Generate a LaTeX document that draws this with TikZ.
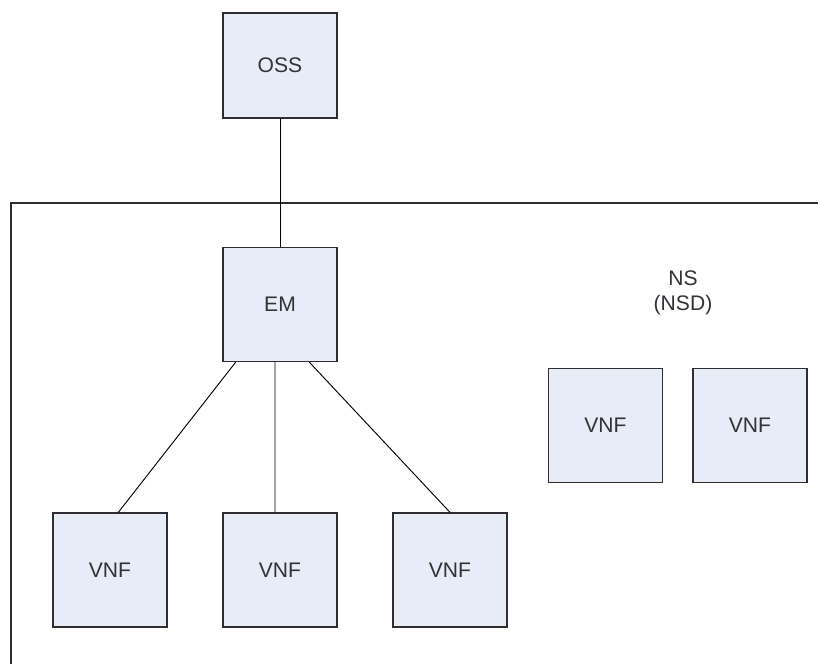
\documentclass[tikz,border=0pt]{standalone}
\usepackage{fontspec}
\setmainfont{Liberation Sans}
\usepackage{tikz}
\usetikzlibrary{positioning,shadows}
\definecolor{boxfill}{RGB}{232,236,247}
\definecolor{boxline}{RGB}{45,45,50}
\definecolor{boxtext}{RGB}{50,50,55}

\begin{document}
\begin{tikzpicture}[x=0.03cm,y=-0.03cm,node distance=5.1cm,
  main node/.style={rectangle,draw=boxline,line width=1.1pt,fill=boxfill,
    minimum width=3.42cm,minimum height=3.42cm,inner sep=0pt,
    text=boxtext,font=\fontsize{18}{21}\selectfont,
    drop shadow={shadow xshift=0.6pt,shadow yshift=-0.6pt,opacity=0.35}},
  side node/.style={align=center,text=boxtext,font=\fontsize{18}{21}\selectfont}]
  \useasboundingbox (0,0) rectangle (818,664);

  % frame of the NS
  \draw[line width=1pt,boxline] (11,664) -- (11,203) -- (818,203);

  \node[main node,minimum height=3.15cm] (oss) at (280,65.5) {OSS};
  \node[main node] (em) at (280,304.5) {EM};
  \node[main node] (v1) at (110,570) {VNF};
  \node[main node] (v2) [right of=v1] {VNF};
  \node[main node] (v3) [right of=v2] {VNF};
  \node[main node] (v4) at (605.5,425.5) {VNF};
  \node[main node] (v5) [right of=v4,node distance=4.335cm] {VNF};
  \node[side node] (ns) at (683,293) {NS\\(NSD)};

  \draw[line width=0.8pt] ([xshift=0.3pt]oss.south) -- ([xshift=0.3pt]em.north);
  \draw[line width=0.8pt] ([xshift=0.4cm]em.south west) -- ([xshift=0.25cm]v1.north);
  \draw[line width=0.8pt] ([xshift=-0.15cm]em.south) -- ([xshift=-0.15cm]v2.north);
  \draw[line width=0.8pt] ([xshift=-0.85cm]em.south east) -- (v3.north);
\end{tikzpicture}
\end{document}
